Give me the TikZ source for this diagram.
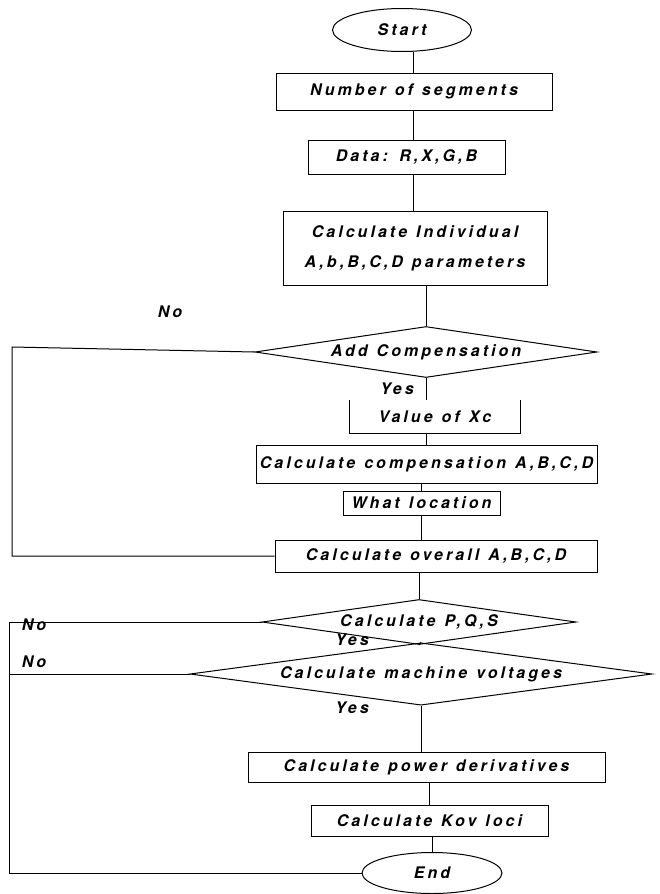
\documentclass[tikz,border=0pt]{standalone}
\usepackage{fontspec}
\setmainfont{texgyreheros}[Extension=.otf,UprightFont=*-regular,BoldFont=*-bold,ItalicFont=*-italic,BoldItalicFont=*-bolditalic,LetterSpace=19,WordSpace=1.2]
\usetikzlibrary{shapes.geometric}
\begin{document}
\begin{tikzpicture}[x=1pt,y=-1pt,
  every node/.style={font=\fontsize{16}{30}\selectfont\bfseries\itshape},
  box/.style={draw,rectangle,inner sep=0pt,line width=1pt},
  oval/.style={draw,ellipse,inner sep=0pt,line width=1pt},
  dia/.style={draw,diamond,inner sep=0pt,aspect=6,line width=1pt},
  lbl/.style={inner sep=0pt},
  ln/.style={line width=1pt}]
\useasboundingbox (0,0) rectangle (659,894);
\node[oval,minimum width=139,minimum height=43] (start) at (402,30) {Start};
\node[box,minimum width=276,minimum height=37] (num) at (414,91.5) {Number of segments};
\node[box,minimum width=197,minimum height=34] (data) at (406.5,157) {Data: R,X,G,B};
\node[box,minimum width=264,minimum height=74,align=center] (indiv) at (415,248) {Calculate Individual\\A,b,B,C,D parameters};
\node[dia,minimum width=342,minimum height=51] (addc) at (426,352) {Add Compensation};
\node[inner sep=0pt,minimum width=170,minimum height=33] (value) at (435,416.5) {Value of Xc};
\draw[ln] (value.north west) -- (value.south west) -- (value.south east) -- (value.north east);
\node[box,minimum width=341,minimum height=38] (comp) at (426.5,464) {Calculate compensation A,B,C,D};
\node[box,minimum width=157,minimum height=24] (loc) at (421.5,503) {What location};
\node[box,minimum width=322,minimum height=32] (overall) at (436,556) {Calculate overall A,B,C,D};
\node[dia,minimum width=314,minimum height=45] (pqs) at (419,622) {Calculate P,Q,S};
\node[dia,minimum width=462,minimum height=45] (mach) at (421,674) {Calculate machine voltages};
\node[box,minimum width=357,minimum height=30] (power) at (426.5,767) {Calculate power derivatives};
\node[box,minimum width=237,minimum height=31] (kov) at (429.5,820.5) {Calculate Kov loci};
\node[oval,minimum width=140,minimum height=41] (end) at (432,873) {End};
% labels
\node[lbl] (no1) at (170,312) {No};
\node[lbl] (yes1) at (397,389) {Yes};
\node[lbl] (no2) at (34,625) {No};
\node[lbl] (yes2) at (352,640) {Yes};
\node[lbl] (no3) at (34,662) {No};
\node[lbl] (yes3) at (352,708) {Yes};
% corner points of the loops
\coordinate (l1a) at (12,347);
\coordinate (l1b) at (12,556);
\coordinate (l2a) at (9,622);
\coordinate (l2b) at (9,873);
% connectors
\draw[ln] (start.south -| 413,0) -- (num.north -| 413,0);
\draw[ln] (num.south -| 413,0) -- (data.north -| 413,0);
\draw[ln] (data.south -| 413,0) -- (indiv.north -| 413,0);
\draw[ln] (indiv.south -| addc.north) -- (addc.north);
\draw[ln] (addc.south) -- (addc.south |- value.north);
\draw[ln] (value.south -| addc.south) -- (comp.north -| addc.south);
\draw[ln] (comp.south -| loc.north) -- (loc.north);
\draw[ln] (loc.south) -- (loc.south |- overall.north);
\draw[ln] (overall.south -| pqs.north) -- (pqs.north);
\draw[ln] (pqs.south) -- (mach.north);
\draw[ln] (mach.south) -- (mach.south |- power.north);
\draw[ln] (power.south -| kov.north) -- (kov.north);
\draw[ln] (kov.south -| end.north) -- (end.north);
\draw[ln] (addc.west) -- (l1a) -- (l1b) -- (overall.west);
\draw[ln] (pqs.west) -- (pqs.west -| l2a) -- (l2b) -- (end.west);
\draw[ln] (mach.west) -- (mach.west -| l2a);
\end{tikzpicture}
\end{document}
